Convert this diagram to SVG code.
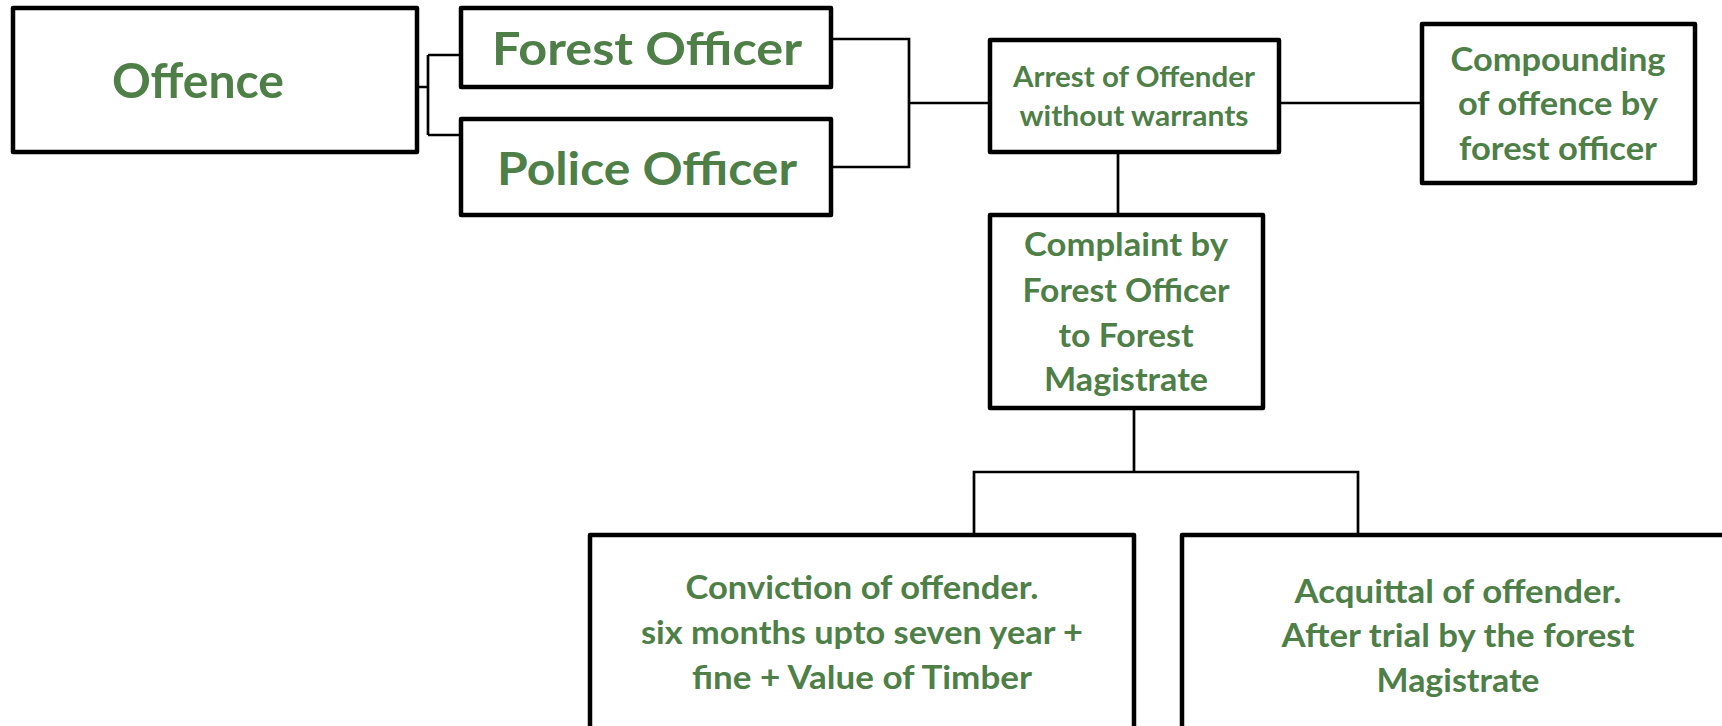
<svg xmlns="http://www.w3.org/2000/svg" width="1722" height="726" viewBox="0 0 1722 726">
<style>
.box{fill:#fff;stroke:#000;stroke-width:4.5;stroke-linejoin:round}
.con{fill:none;stroke:#000;stroke-width:2.7}
.t{font-family:Lato,"Open Sans","Liberation Sans",sans-serif;font-weight:700;fill:#4E7F47;text-anchor:middle}
.g{font-family:Lato,"Liberation Sans",sans-serif;font-weight:700;fill:#4E7F47;text-anchor:middle}
</style>
<rect width="1722" height="726" fill="#fff"/>
<g id="connectors">
<path class="con" d="M417 87H428M428 55V135M428 55H461M428 135H461"/>
<path class="con" d="M830 39H909V167H830M909 103H990"/>
<path class="con" d="M1278 103H1422"/>
<path class="con" d="M1118 152V215"/>
<path class="con" d="M1134 408V472M974 535V472H1358V535"/>
</g>
<g id="offence">
<rect class="box" x="13" y="8" width="404" height="144"/>
<text class="g" x="198" y="98" font-size="48" textLength="172" lengthAdjust="spacingAndGlyphs">Offence</text>
</g>
<g id="forest-officer">
<rect class="box" x="461" y="8" width="370" height="79"/>
<text class="g" x="647" y="65" font-size="46" textLength="310" lengthAdjust="spacingAndGlyphs">Forest Officer</text>
</g>
<g id="police-officer">
<rect class="box" x="461" y="119" width="370" height="96"/>
<text class="g" x="647" y="185" font-size="46" textLength="300" lengthAdjust="spacingAndGlyphs">Police Officer</text>
</g>
<g id="arrest">
<rect class="box" x="990" y="40" width="289" height="112"/>
<text class="t" font-size="28"><tspan x="1134" y="87" textLength="242" lengthAdjust="spacingAndGlyphs">Arrest of Offender</tspan><tspan x="1134" y="126" textLength="229" lengthAdjust="spacingAndGlyphs">without warrants</tspan></text>
</g>
<g id="compounding">
<rect class="box" x="1422" y="24" width="273" height="159"/>
<text class="t" font-size="33"><tspan x="1558" y="71" textLength="215" lengthAdjust="spacingAndGlyphs">Compounding</tspan><tspan x="1558" y="115" textLength="200" lengthAdjust="spacingAndGlyphs">of offence by</tspan><tspan x="1558" y="160" textLength="198" lengthAdjust="spacingAndGlyphs">forest officer</tspan></text>
</g>
<g id="complaint">
<rect class="box" x="990" y="215" width="273" height="193"/>
<text class="t" font-size="33"><tspan x="1126" y="256" textLength="204" lengthAdjust="spacingAndGlyphs">Complaint by</tspan><tspan x="1126" y="302" textLength="207" lengthAdjust="spacingAndGlyphs">Forest Officer</tspan><tspan x="1126" y="347" textLength="135" lengthAdjust="spacingAndGlyphs">to Forest</tspan><tspan x="1126" y="391" textLength="164" lengthAdjust="spacingAndGlyphs">Magistrate</tspan></text>
</g>
<g id="conviction">
<rect class="box" x="590" y="535" width="544" height="220"/>
<text class="t" font-size="33"><tspan x="862" y="599" textLength="353" lengthAdjust="spacingAndGlyphs">Conviction of offender.</tspan><tspan x="862" y="644" textLength="442" lengthAdjust="spacingAndGlyphs">six months upto seven year +</tspan><tspan x="862" y="689" textLength="340" lengthAdjust="spacingAndGlyphs">fine + Value of Timber</tspan></text>
</g>
<g id="acquittal">
<rect class="box" x="1182" y="535" width="560" height="220"/>
<text class="t" font-size="33"><tspan x="1458" y="603" textLength="327" lengthAdjust="spacingAndGlyphs">Acquittal of offender.</tspan><tspan x="1458" y="647" textLength="353" lengthAdjust="spacingAndGlyphs">After trial by the forest</tspan><tspan x="1458" y="692" textLength="163" lengthAdjust="spacingAndGlyphs">Magistrate</tspan></text>
</g>
</svg>
